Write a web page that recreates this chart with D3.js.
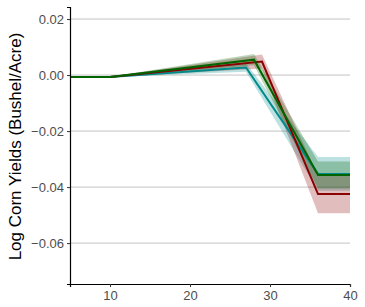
<!DOCTYPE html>
<html>
<head>
<meta charset="utf-8">
<script src="https://cdn.jsdelivr.net/npm/d3@7"></script>
<style>
  body { margin: 0; background: #fff; }
  text { font-family: "Liberation Sans", Arial, sans-serif; }
</style>
</head>
<body>
<div id="chart"></div>
<script>
// x positions and estimates per series
let tealX = [5, 10, 27, 36, 40];
let tealY = [-0.0007, -0.0007, 0.0027, -0.0353, -0.0353];
let tealErr = [0, 0.0001, 0.0015, 0.006, 0.006];

let redX = [5, 10, 29, 36, 40];
let redY = [-0.0007, -0.0007, 0.0048, -0.0425, -0.0425];
let redErr = [0, 0.0001, 0.0025, 0.0068, 0.0068];

let greenX = [5, 10, 28, 36, 40];
let greenY = [-0.0007, -0.0007, 0.0055, -0.0357, -0.0357];
let greenErr = [0, 0.0001, 0.002, 0.0048, 0.0048];

let xTicks = [10, 20, 30, 40];
let yTicks = [0.02, 0, -0.02, -0.04, -0.06];

let series = [
    { x: tealX, y: tealY, err: tealErr, color: '#008b8b' },
    { x: redX, y: redY, err: redErr, color: '#8b0000' },
    { x: greenX, y: greenY, err: greenErr, color: '#006400' }
];

let width = 365;
let height = 307;
let margin = { top: 7, right: 15, bottom: 23, left: 70 };

let svg = d3.select('#chart')
    .append('svg')
    .attr('width', width)
    .attr('height', height);

let x = d3.scaleLinear()
    .domain([5, 40])
    .range([margin.left, width - margin.right]);

let y = d3.scaleLinear()
    .domain([-0.0746, 0.0243])
    .range([height - margin.bottom, margin.top]);

// horizontal grid lines
svg.append('g')
    .selectAll('line')
    .data(yTicks)
    .enter()
    .append('line')
    .attr('x1', margin.left)
    .attr('x2', width - margin.right)
    .attr('y1', d => y(d))
    .attr('y2', d => y(d))
    .attr('stroke', '#c4c4c4')
    .attr('stroke-width', 1);

// bands
let area = d3.area()
    .x(d => x(d.x))
    .y0(d => y(d.y - d.e))
    .y1(d => y(d.y + d.e));

let line = d3.line()
    .x(d => x(d.x))
    .y(d => y(d.y));

function points(s) {
    return s.x.map(function(v, i) {
        return { x: v, y: s.y[i], e: s.err[i] };
    });
}

series.forEach(function(s) {
    svg.append('path')
        .attr('d', area(points(s)))
        .attr('fill', s.color)
        .attr('fill-opacity', 0.26);
});

series.forEach(function(s) {
    svg.append('path')
        .attr('d', line(points(s)))
        .attr('fill', 'none')
        .attr('stroke', s.color)
        .attr('stroke-width', 2);
});

// axes
let xAxis = svg.append('g')
    .attr('transform', 'translate(0,' + (height - margin.bottom) + ')')
    .call(d3.axisBottom(x).tickValues(xTicks).tickSize(3).tickPadding(4));

let yAxis = svg.append('g')
    .attr('transform', 'translate(' + margin.left + ',0)')
    .call(d3.axisLeft(y).tickValues(yTicks).tickSize(3).tickPadding(3)
        .tickFormat(d => d3.format('.2f')(d).replace('-', '\u2212')));

[xAxis, yAxis].forEach(function(a) {
    a.select('.domain').attr('stroke', '#000').attr('stroke-width', 1.2);
    a.selectAll('.tick line').attr('stroke', '#333');
    a.selectAll('.tick text')
        .attr('fill', '#4d4d4d')
        .style('font-size', '13px')
        .style('font-family', '"Liberation Sans", Arial, sans-serif');
});

svg.append('text')
    .attr('transform', 'translate(21,' + ((margin.top + height - margin.bottom) / 2 + 1) + ') rotate(-90)')
    .attr('text-anchor', 'middle')
    .style('font-size', '17px')
    .attr('fill', '#000')
    .text('Log Corn Yields (Bushel/Acre)');
</script>
</body>
</html>
